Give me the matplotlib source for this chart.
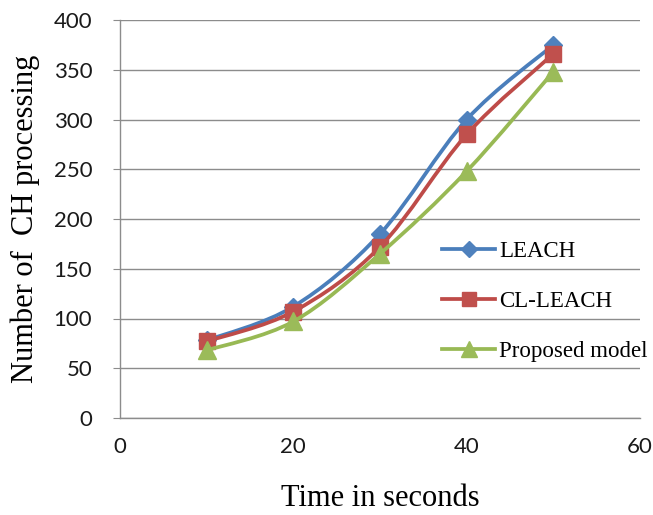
import matplotlib
matplotlib.use("Agg")
import matplotlib.pyplot as plt
from matplotlib.path import Path
from matplotlib.patches import PathPatch
from matplotlib.lines import Line2D
import numpy as np

time_s = [10, 20, 30, 40, 50]
leach = [78, 112, 185, 300, 375]
cl_leach = [77, 107, 172, 285, 366]
proposed = [68, 97, 165, 248, 348]
series_names = ["LEACH", "CL-LEACH", "Proposed model"]
x_ticks = [0, 20, 40, 60]
y_ticks = [0, 50, 100, 150, 200, 250, 300, 350, 400]

line_colors = ["#4A7EBB", "#BE4B48", "#98B954"]
marker_colors = ["#4F81BD", "#C0504D", "#9BBB59"]
markers = ["D", "s", "^"]
msizes = [9, 12, 13]


def smooth_path(xs, ys):
    P = np.column_stack([xs, ys]).astype(float)
    n = len(P)
    verts = [P[0]]
    codes = [Path.MOVETO]
    for i in range(n - 1):
        p0 = P[i - 1] if i > 0 else P[i]
        p1 = P[i]
        p2 = P[i + 1]
        p3 = P[i + 2] if i + 2 < n else P[i + 1]
        c1 = p1 + (p2 - p0) / 6.0
        c2 = p2 - (p3 - p1) / 6.0
        verts += [c1, c2, p2]
        codes += [Path.CURVE4] * 3
    return Path(verts, codes)


fig = plt.figure(figsize=(6.53, 5.15), dpi=100)
ax = fig.add_axes([120 / 653, 1 - 418 / 515, 520 / 653, 398 / 515])

handles = []
for k, ys in enumerate([leach, cl_leach, proposed]):
    patch = PathPatch(smooth_path(time_s, ys), facecolor="none",
                      edgecolor=line_colors[k], lw=2.7, zorder=3 + k,
                      capstyle="round", joinstyle="round")
    ax.add_patch(patch)
    ax.plot(time_s, ys, linestyle="none", marker=markers[k],
            markersize=msizes[k], color=marker_colors[k],
            markeredgecolor=marker_colors[k], zorder=3 + k)
    handles.append(Line2D([], [], color=line_colors[k], lw=2.7,
                          marker=markers[k], markersize=msizes[k] * 0.85,
                          markerfacecolor=marker_colors[k],
                          markeredgecolor=marker_colors[k]))

ax.set_xlim(0, 60)
ax.set_ylim(0, 400)
ax.set_xticks(x_ticks)
ax.set_yticks(y_ticks)
ax.yaxis.grid(True, color="#8C8C8C", lw=1.0)
ax.set_axisbelow(True)
for s in ["top", "right"]:
    ax.spines[s].set_visible(False)
for s in ["left", "bottom"]:
    ax.spines[s].set_color("#8C8C8C")
    ax.spines[s].set_linewidth(1.0)
ax.tick_params(axis="y", length=5, color="#8C8C8C", pad=15)
ax.tick_params(axis="x", length=0, pad=14)
for lab in ax.get_xticklabels() + ax.get_yticklabels():
    lab.set_fontfamily("Lato")
    lab.set_fontsize(16)
    lab.set_color("#1a1a1a")

ax.set_xlabel("Time in seconds", fontfamily="Liberation Serif", fontsize=22,
              labelpad=19)
ax.set_ylabel("Number of  CH processing", fontfamily="Liberation Serif",
              fontsize=22, labelpad=10)

leg = ax.legend(handles, series_names, loc="upper left",
                bbox_to_anchor=(433 / 653, 1 - 232 / 515),
                bbox_transform=fig.transFigure, frameon=False,
                prop={"family": "Liberation Serif", "size": 16.5},
                handlelength=2.3, handletextpad=0.2, labelspacing=1.25,
                borderaxespad=0)

fig.savefig("out.png", dpi=100)
